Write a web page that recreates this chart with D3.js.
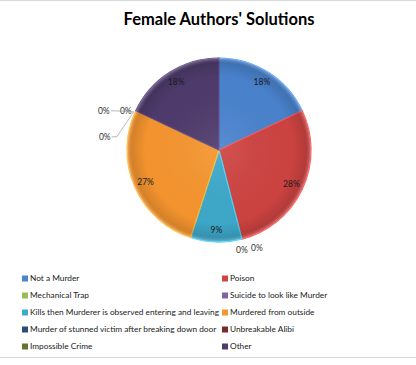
<!DOCTYPE html>
<html>
<head>
<meta charset="utf-8">
<script src="https://cdn.jsdelivr.net/npm/d3@7"></script>
<style>
  body { margin: 0; background: #fff; }
  svg { display: block; }
</style>
</head>
<body>
<script>
const categories = [
  "Not a Murder", "Poison", "Mechanical Trap", "Suicide to look like Murder",
  "Kills then Murderer is observed entering and leaving", "Murdered from outside",
  "Murder of stunned victim after breaking down door", "Unbreakable Alibi",
  "Impossible Crime", "Other"
];
const shares = [18, 28, 0, 0, 9, 27, 0, 0, 0, 18];
const colors = [
  "#4a84cf", "#cf4442", "#9bbb59", "#8064a2",
  "#3eaacb", "#f7962f", "#2c4d75", "#772c2a",
  "#5f7530", "#4f3b6d"
];
// nudges for the outside labels of zero slices (dx, dy, leader line?)
const zeroLabelNudge = {
  2: [0, 11, false], 3: [15, 9, false],
  6: [-10, 0, false], 7: [-32, 0, true], 8: [-31, 26, true]
};

const width = 416, height = 365;
const cx = 219, cy = 150, r = 92;

const svg = d3.select("body").append("svg")
  .attr("width", width).attr("height", height);

// frame lines
svg.append("line").attr("x1", 0).attr("x2", width).attr("y1", 0.5).attr("y2", 0.5)
  .attr("stroke", "#d9d9d9");
svg.append("line").attr("x1", 0).attr("x2", width).attr("y1", 357.5).attr("y2", 357.5)
  .attr("stroke", "#d9d9d9");

svg.append("text")
  .attr("x", cx).attr("y", 25)
  .attr("text-anchor", "middle")
  .attr("font-family", "Lato, 'Open Sans', sans-serif")
  .attr("font-weight", "bold")
  .attr("font-size", 16.5)
  .attr("fill", "#000")
  .text("Female Authors' Solutions");

const data = categories.map((c, i) => ({ name: c, value: shares[i], i }));

const pie = d3.pie().sort(null).value(d => d.value);
const arcs = pie(data);
const arc = d3.arc().innerRadius(0).outerRadius(r);
const labelArc = d3.arc().innerRadius(r * 0.87).outerRadius(r * 0.87);

const defs = svg.append("defs");
const shade = defs.append("radialGradient").attr("id", "shade")
  .attr("gradientUnits", "userSpaceOnUse")
  .attr("cx", 0).attr("cy", 0).attr("r", r);
shade.append("stop").attr("offset", "0%").attr("stop-color", "#fff").attr("stop-opacity", 0.08);
shade.append("stop").attr("offset", "80%").attr("stop-color", "#000").attr("stop-opacity", 0.02);
shade.append("stop").attr("offset", "95%").attr("stop-color", "#000").attr("stop-opacity", 0.14);
shade.append("stop").attr("offset", "100%").attr("stop-color", "#fff").attr("stop-opacity", 0.25);

const g = svg.append("g").attr("transform", `translate(${cx},${cy})`);

const visible = arcs.filter(d => d.data.value > 0);

g.selectAll("path.slice")
  .data(visible)
  .enter()
  .append("path")
  .attr("class", "slice")
  .attr("d", arc)
  .attr("fill", d => colors[d.data.i])
  .attr("stroke", d => d3.color(colors[d.data.i]).brighter(0.6))
  .attr("stroke-width", 1.2);

g.selectAll("path.shade")
  .data(visible)
  .enter()
  .append("path")
  .attr("class", "shade")
  .attr("d", arc)
  .attr("fill", "url(#shade)");

const labelFont = "Lato, 'Open Sans', sans-serif";

g.selectAll("text.inner")
  .data(visible)
  .enter()
  .append("text")
  .attr("class", "inner")
  .attr("transform", d => `translate(${labelArc.centroid(d)})`)
  .attr("text-anchor", "middle")
  .attr("dy", "0.35em")
  .attr("font-family", labelFont)
  .attr("font-size", 8.5)
  .attr("fill", "#1a1a1a")
  .text(d => d.data.value + "%");

// zero slices: labels outside the edge
const zeros = arcs.filter(d => d.data.value === 0);
const edge = d3.arc().innerRadius(r).outerRadius(r);

zeros.forEach(d => {
  const [ex, ey] = edge.centroid(d);
  const [dx, dy, leader] = zeroLabelNudge[d.data.i];
  const lx = ex + dx, ly = ey + dy;
  if (leader) {
    const tx = lx + 7;
    g.append("path")
      .attr("d", `M${tx},${ly} L${tx + 5},${ly} L${ex - 2},${ey + 1}`)
      .attr("fill", "none")
      .attr("stroke", "#999")
      .attr("stroke-width", 0.7);
  }
  g.append("text")
    .attr("x", lx).attr("y", ly)
    .attr("text-anchor", "middle")
    .attr("dy", "0.35em")
    .attr("font-family", labelFont)
    .attr("font-size", 8.5)
    .attr("fill", "#333")
    .text(d.data.value + "%");
});

// legend, two columns
const colX = [22, 222];
const rowY = d3.scaleBand().domain(d3.range(5)).range([270, 355]);

const legend = svg.append("g").selectAll("g")
  .data(data)
  .enter()
  .append("g")
  .attr("transform", d => `translate(${colX[d.i % 2]},${rowY(Math.floor(d.i / 2)) + rowY.bandwidth() / 2})`);

legend.append("rect")
  .attr("x", 0).attr("y", -3).attr("width", 6).attr("height", 6)
  .attr("fill", d => colors[d.i]);

legend.append("text")
  .attr("x", 8).attr("y", 0)
  .attr("dy", "0.35em")
  .attr("font-family", labelFont)
  .attr("font-size", 8.3)
  .attr("fill", "#222")
  .text(d => d.name);
</script>
</body>
</html>
